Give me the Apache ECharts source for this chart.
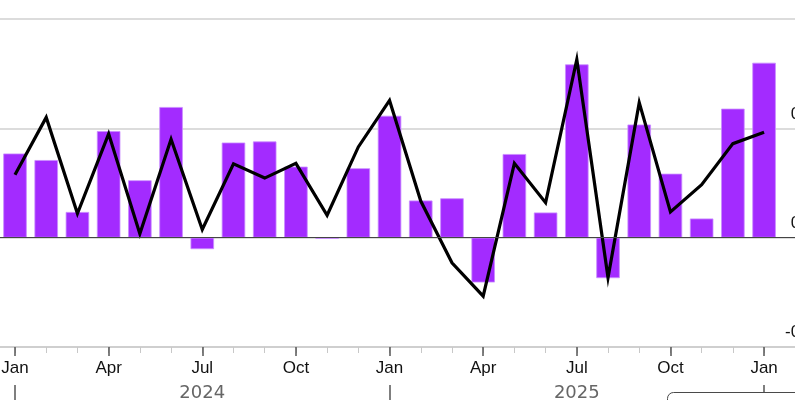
<!DOCTYPE html>
<html>
<head>
<meta charset="utf-8">
<script src="https://cdn.jsdelivr.net/npm/echarts@6/dist/echarts.min.js"></script>
<style>
html,body{margin:0;padding:0;background:#fff;}
#chart{width:795px;height:400px;}
</style>
</head>
<body>
<div id="chart"></div>
<script>
const categories = ['2024-01','2024-02','2024-03','2024-04','2024-05','2024-06','2024-07','2024-08','2024-09','2024-10','2024-11','2024-12',
  '2025-01','2025-02','2025-03','2025-04','2025-05','2025-06','2025-07','2025-08','2025-09','2025-10','2025-11','2025-12','2026-01'];
const barValues = [0.154,0.142,0.047,0.195,0.105,0.239,-0.021,0.174,0.176,0.130,-0.002,0.127,
  0.223,0.068,0.072,-0.082,0.153,0.046,0.317,-0.074,0.207,0.117,0.035,0.236,0.320];
const lineValues = [0.115,0.220,0.044,0.190,0.007,0.180,0.015,0.135,0.109,0.136,0.041,0.166,
  0.251,0.067,-0.046,-0.107,0.136,0.064,0.326,-0.073,0.247,0.047,0.097,0.172,0.193];
const monthLabels = {'01':'Jan','04':'Apr','07':'Jul','10':'Oct'};
const yearLabels = {'2024-07':'2024','2025-07':'2025'};
const yMin = -0.2, yMax = 0.4, yStep = 0.2;

const axisCats = categories.concat(['']);
const FONT = '"Liberation Sans", Arial, sans-serif';
const chart = echarts.init(document.getElementById('chart'), null, {renderer:'canvas'});
const isQuarter = (i) => { const c = axisCats[i]; return !!c && monthLabels[c.slice(5)] !== undefined; };
const isJan = (i) => { const c = axisCats[i]; return !!c && c.slice(5) === '01'; };

chart.setOption({
  animation: false,
  backgroundColor: '#fff',
  grid: {left: -0.6, top: 19, width: 811.5, height: 328, containLabel: false, outerBoundsMode: 'none'},
  xAxis: [
    {
      type: 'category', data: axisCats, position: 'bottom', boundaryGap: true,
      axisLine: {show: true, onZero: false, lineStyle: {color: '#cfcfcf', width: 2}},
      axisTick: {show: true, alignWithLabel: true, interval: 0, length: 6, lineStyle: {color: '#c8c8c8', width: 1}},
      axisLabel: {
        interval: (i) => isQuarter(i), margin: 13,
        formatter: (v) => v ? (monthLabels[v.slice(5)] || '') : '',
        color: '#111', fontSize: 17, fontFamily: FONT
      },
      splitLine: {show: false}
    },
    {
      type: 'category', data: axisCats, position: 'bottom', boundaryGap: true,
      axisLine: {show: false, onZero: false},
      axisTick: {show: true, alignWithLabel: true, interval: (i) => isQuarter(i), length: 9, lineStyle: {color: '#555', width: 1.5}},
      axisLabel: {show: false},
      splitLine: {show: false}
    },
    {
      type: 'category', data: axisCats, position: 'bottom', offset: 38, boundaryGap: true,
      axisLine: {show: false, onZero: false},
      axisTick: {show: true, alignWithLabel: true, interval: (i) => isJan(i), length: 16, lineStyle: {color: '#555', width: 1.5}},
      axisLabel: {
        interval: (i) => yearLabels[axisCats[i]] !== undefined, margin: -1,
        formatter: (v) => yearLabels[v] || '',
        color: '#666', fontSize: 18, fontFamily: '"DejaVu Sans", sans-serif'
      },
      splitLine: {show: false}
    }
  ],
  yAxis: {
    type: 'value', min: yMin, max: yMax, interval: yStep, position: 'right', offset: 3.4,
    axisLine: {show: false}, axisTick: {show: false},
    axisLabel: {
      show: true, margin: 0, align: 'right', verticalAlign: 'bottom', padding: [0, 0, 6, 0],
      showMaxLabel: false,
      formatter: (v) => v.toFixed(1),
      color: '#111', fontSize: 17, fontFamily: FONT
    },
    splitLine: {show: true, lineStyle: {color: '#dcdcdc', width: 2}}
  },
  series: [
    {
      type: 'bar', data: barValues, barWidth: 23.5, xAxisIndex: 0,
      itemStyle: {color: '#A32BFF', borderColor: '#c98dff', borderWidth: 0.8},
      markLine: {
        silent: true, symbol: 'none', label: {show: false},
        lineStyle: {color: '#444', width: 1.2, type: 'solid'},
        data: [{yAxis: 0}]
      },
      z: 2
    },
    {
      type: 'line', data: lineValues, xAxisIndex: 0, showSymbol: false, symbol: 'none',
      lineStyle: {color: '#000', width: 3.2, join: 'miter'}, z: 3
    }
  ],
  graphic: [
    {
      type: 'rect', left: 667, top: 392,
      shape: {width: 200, height: 40, r: 6},
      style: {fill: '#fff', stroke: '#4a4a4a', lineWidth: 1},
      z: 10
    }
  ]
});
</script>
</body>
</html>
